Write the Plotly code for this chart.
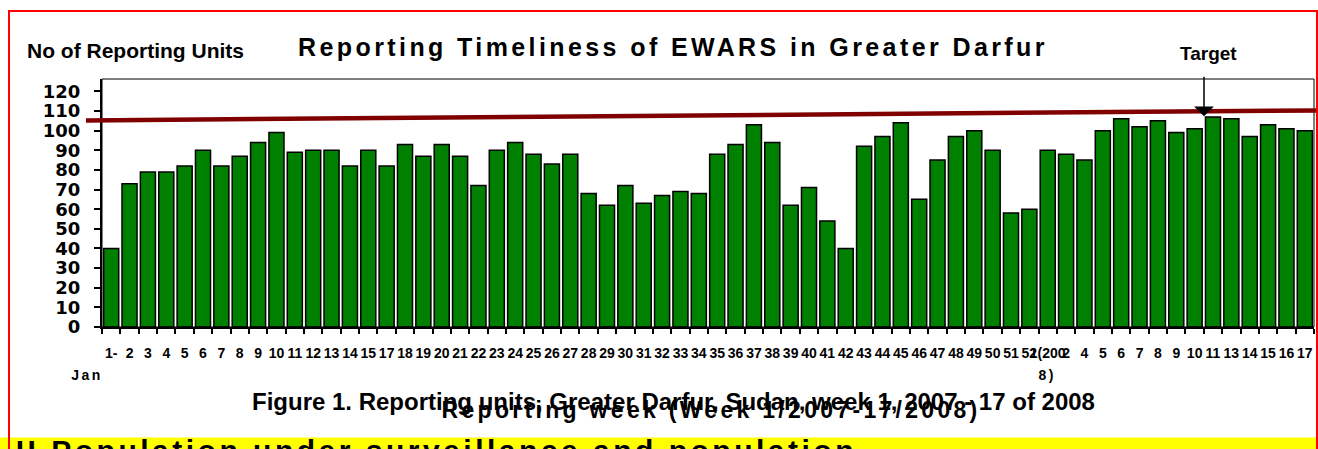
import plotly.graph_objects as go

# ---------------- data ----------------
week_labels = (
    ["1-"] + [str(w) for w in range(2, 16)] + [str(w) for w in range(17, 53)]
    + ["1(200", "2"] + [str(w) for w in range(4, 12)] + [str(w) for w in range(13, 18)]
)
# second line of wrapped tick labels (bar index -> text)
label_second_line = {0: "Jan", 51: "8)"}
reporting_units = [
    # 2007
    40, 73, 79, 79, 82, 90, 82, 87, 94, 99, 89, 90, 90, 82, 90,
    82, 93, 87, 93, 87, 72, 90, 94, 88, 83, 88, 68, 62, 72, 63,
    67, 69, 68, 88, 93, 103, 94, 62, 71, 54, 40, 92, 97, 104, 65,
    85, 97, 100, 90, 58, 60,
    # 2008
    90, 88, 85, 100, 106, 102, 105, 99, 101, 107, 106, 97, 103, 101, 100,
]
target_start, target_end = 105.2, 110.3
y_ticks = list(range(0, 121, 10))

# ---------------- layout helpers ----------------
W, H = 1318, 449
L, R, T, B = 102, 4, 79, 122
PW, PH = W - L - R, H - T - B


def px(x):
    return (x - L) / PW


def py(y):
    return (H - B - y) / PH


BOLD = dict(family="Liberation Sans, Arial, sans-serif", color="black", weight="bold")
WIDE = dict(family="DejaVu Sans, sans-serif", color="black", weight="bold")
n = len(reporting_units)
xs = list(range(n))

fig = go.Figure()
fig.add_trace(go.Bar(
    x=xs, y=reporting_units,
    marker=dict(color="#008000", line=dict(color="black", width=1.5)),
    hoverinfo="y",
))

fig.update_layout(
    width=W, height=H,
    margin=dict(l=L, r=R, t=T, b=B, pad=0, autoexpand=False),
    paper_bgcolor="white", plot_bgcolor="white",
    showlegend=False, bargap=0.18,
    xaxis=dict(
        range=[-0.5, n - 0.5], tickmode="array", tickvals=xs, ticktext=week_labels,
        tickangle=0, ticks="", showline=True, linecolor="black", linewidth=2,
        showgrid=False, zeroline=False, ticklabelstandoff=12, automargin=False,
        tickfont=dict(size=14, **BOLD),
        minor=dict(tick0=-0.5, dtick=1, ticks="outside", ticklen=5, tickwidth=1.5,
                   tickcolor="black", showgrid=False),
    ),
    yaxis=dict(
        range=[0, 126.3], tickmode="array", tickvals=y_ticks,
        ticks="outside", ticklen=6, tickwidth=1.5, tickcolor="black",
        showline=True, linecolor="black", linewidth=2, showgrid=False, zeroline=False,
        ticklabelstandoff=10, automargin=False, tickfont=dict(size=18, **WIDE),
    ),
)

shapes = [
    # plot frame (top/right thin border)
    dict(type="rect", xref="paper", yref="paper", x0=0, x1=1, y0=0, y1=1,
         line=dict(color="black", width=1), fillcolor="rgba(0,0,0,0)"),
    # target line
    dict(type="line", xref="paper", yref="y", x0=px(86), x1=px(1318),
         y0=target_start, y1=target_end, line=dict(color="#800000", width=4.5)),
    # yellow band at bottom
    dict(type="rect", xref="paper", yref="paper", x0=px(-2), x1=px(1320),
         y0=py(455), y1=py(437.5), line=dict(width=0), fillcolor="#FFFF00", layer="below"),
    # red outer border
    dict(type="rect", xref="paper", yref="paper", x0=px(9), x1=px(1317),
         y0=py(460), y1=py(11), line=dict(color="#FF0000", width=2),
         fillcolor="rgba(0,0,0,0)"),
]
fig.update_layout(shapes=shapes)

ann = [
    dict(text="No of Reporting Units", x=px(25), y=py(50), xanchor="left", yanchor="middle",
         font=dict(size=21, **BOLD)),
    dict(text="Reporting Timeliness of EWARS in Greater Darfur", x=px(673), y=py(47),
         xanchor="center", yanchor="middle", font=dict(size=25, **BOLD)),
    dict(text="Target", x=px(1208), y=py(54), xanchor="center", yanchor="middle",
         font=dict(size=19, **BOLD)),
    dict(text="Figure 1. Reporting units, Greater Darfur, Sudan, week 1, 2007 - 17 of 2008",
         x=px(250), y=py(401), xanchor="left", yanchor="middle", font=dict(size=24, **BOLD)),
    dict(text="Reporting week (Week 1/2007-17/2008)", x=px(711), y=py(410),
         xanchor="center", yanchor="middle", font=dict(size=23, **BOLD)),
    dict(text="II Population under surveillance and population", x=px(436), y=py(432),
         xanchor="center", yanchor="top", font=dict(size=30, **BOLD)),
]
for a in ann:
    a.update(xref="paper", yref="paper", showarrow=False)
# second lines of wrapped tick labels
line2_x = {0: 87, 51: 1047}
for idx, txt in label_second_line.items():
    ann.append(dict(text=txt, xref="paper", yref="paper", x=px(line2_x[idx]), y=py(375),
                    xanchor="center", yanchor="middle", showarrow=False,
                    font=dict(size=14, **BOLD)))
# arrow pointing to target line
ann.append(dict(text="", xref="paper", yref="y", x=px(1204), y=107.3, ax=0, ay=-41,
                axref="pixel", ayref="pixel", showarrow=True, arrowhead=1,
                arrowsize=2.2, arrowwidth=1.5, arrowcolor="black"))
fig.update_layout(annotations=ann)

post = """
document.body.style.margin = '0';
document.body.style.padding = '0';
var gd = document.getElementById('{plot_id}');
function sp(){
  var m = {'Reporting Timeliness of EWARS in Greater Darfur':'3.4px',
           'Reporting week (Week 1/2007-17/2008)':'3.3px',
           'II Population under surveillance and population':'3.5px',
           'Jan':'2.5px', '8)':'2.5px'};
  gd.querySelectorAll('text').forEach(function(t){
    var v = m[t.textContent]; if (v) { t.style.letterSpacing = v; }
  });
}
sp(); if (gd.on) { gd.on('plotly_afterplot', sp); }
setTimeout(sp, 50);
"""
fig.write_html("out.html", post_script=post, config={"displayModeBar": False})
